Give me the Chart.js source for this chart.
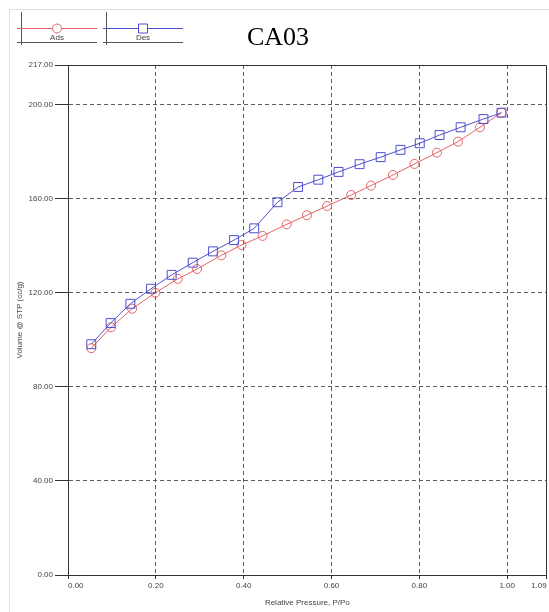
<!DOCTYPE html>
<html>
<head>
<meta charset="utf-8">
<script src="https://cdn.jsdelivr.net/npm/chart.js@4/dist/chart.umd.min.js"></script>
<style>
  body { margin: 0; background: #fff; overflow: hidden; }
  #wrap { position: relative; width: 549px; height: 612px; overflow: hidden; }
  #frame { position: absolute; left: 9px; top: 9px; right: -5px; bottom: -5px; border-left: 1px solid #e2e2e2; border-top: 1px solid #e2e2e2; }
  canvas { position: absolute; left: 0; top: 0; }
</style>
</head>
<body>
<div id="wrap">
  <div id="frame"></div>
  <canvas id="chart" width="554" height="612"></canvas>
</div>
<script>
// 吸着 (Ads)
const adsX = [0.053, 0.098, 0.146, 0.199, 0.250, 0.294, 0.349, 0.395, 0.443, 0.498,
              0.544, 0.590, 0.645, 0.690, 0.740, 0.789, 0.840, 0.888, 0.938, 0.987];
const adsY = [96.5, 105.4, 113.3, 120.1, 126.0, 130.2, 136.0, 140.4, 144.3, 149.2,
              153.1, 157.0, 161.7, 165.7, 170.2, 174.9, 179.7, 184.4, 190.5, 196.7];
// 脱着 (Des)
const desX = [0.053, 0.097, 0.142, 0.189, 0.236, 0.284, 0.330, 0.378, 0.424, 0.477,
              0.524, 0.570, 0.616, 0.664, 0.712, 0.757, 0.801, 0.846, 0.894, 0.946, 0.987];
const desY = [98.2, 107.2, 115.4, 121.8, 127.7, 132.9, 137.7, 142.5, 147.5, 158.6,
              165.1, 168.2, 171.5, 174.8, 177.8, 180.9, 183.7, 187.2, 190.5, 194.0, 196.7];

const xTicks = [0, 0.2, 0.4, 0.6, 0.8, 1.0, 1.09];
const yTicks = [0, 40, 80, 120, 160, 200, 217];

const chartTitle = 'CA03';
const seriesNames = ['Ads', 'Des'];
const xTitle = 'Relative Pressure, P/Po';
const yTitle = 'Volume @ STP (cc/g)';

const RED = '#e46464';
const BLUE = '#4f4fd2';
const AXIS = '#333';
const GRID = '#5e5e5e';
const TXT = '#444';

const toPoints = (xs, ys) => xs.map((x, i) => ({ x: x, y: ys[i] }));

// 最大値の目盛り線は枠線で描くので消す
const gridColor = max => ctx => (ctx.tick && ctx.tick.value === max ? 'rgba(0,0,0,0)' : GRID);

// タイトル・凡例・枠線を描くプラグイン
const decor = {
  id: 'decor',
  afterDraw(chart) {
    const ctx = chart.ctx;
    const a = chart.chartArea;
    ctx.save();
    // 上と右の枠線
    ctx.strokeStyle = AXIS;
    ctx.lineWidth = 1;
    ctx.setLineDash([]);
    ctx.beginPath();
    ctx.moveTo(Math.round(a.left) + 0.5, Math.round(a.top) + 0.5);
    ctx.lineTo(Math.round(a.right) - 0.5, Math.round(a.top) + 0.5);
    ctx.lineTo(Math.round(a.right) - 0.5, Math.round(a.bottom) + 0.5);
    ctx.stroke();

    // 凡例
    const items = [
      { name: seriesNames[0], color: RED, shape: 'circle', x0: 17, vx: 21.5, cx: 57 },
      { name: seriesNames[1], color: BLUE, shape: 'rect', x0: 103, vx: 106.5, cx: 143 }
    ];
    items.forEach(it => {
      ctx.strokeStyle = '#555';
      ctx.beginPath();
      ctx.moveTo(it.vx, 12);
      ctx.lineTo(it.vx, 45);
      ctx.moveTo(it.x0, 42.5);
      ctx.lineTo(it.x0 + 80, 42.5);
      ctx.stroke();
      ctx.strokeStyle = it.color;
      ctx.beginPath();
      ctx.moveTo(it.x0, 28.5);
      ctx.lineTo(it.x0 + 80, 28.5);
      ctx.stroke();
      ctx.fillStyle = '#fff';
      ctx.beginPath();
      if (it.shape === 'circle') {
        ctx.arc(it.cx, 28.5, 4.5, 0, Math.PI * 2);
      } else {
        ctx.rect(it.cx - 4.5, 24, 9, 9);
      }
      ctx.fill();
      ctx.stroke();
      ctx.fillStyle = TXT;
      ctx.font = '8px "Liberation Sans", Arial, sans-serif';
      ctx.textAlign = 'center';
      ctx.textBaseline = 'middle';
      ctx.fillText(it.name, it.cx, 38);
    });

    // タイトル
    ctx.fillStyle = '#000';
    ctx.font = '26px "Liberation Serif", "Times New Roman", serif';
    ctx.textAlign = 'center';
    ctx.textBaseline = 'alphabetic';
    ctx.fillText(chartTitle, 278, 45);
    ctx.restore();
  }
};

const tickFont = { family: '"Liberation Sans", Arial, sans-serif', size: 8 };

new Chart(document.getElementById('chart'), {
  type: 'scatter',
  data: {
    datasets: [
      {
        label: seriesNames[0],
        data: toPoints(adsX, adsY),
        showLine: true,
        borderColor: RED,
        backgroundColor: 'rgba(0,0,0,0)',
        borderWidth: 1,
        pointStyle: 'circle',
        pointRadius: 4.5,
        pointBorderWidth: 1,
        pointBorderColor: RED,
        order: 2
      },
      {
        label: seriesNames[1],
        data: toPoints(desX, desY),
        showLine: true,
        borderColor: BLUE,
        backgroundColor: 'rgba(0,0,0,0)',
        borderWidth: 1,
        pointStyle: 'rect',
        pointRadius: 6.3,
        pointBorderWidth: 1,
        pointBorderColor: BLUE,
        order: 1
      }
    ]
  },
  options: {
    responsive: false,
    animation: false,
    events: [],
    layout: { padding: { top: 65, right: 0, left: 0, bottom: 0 } },
    plugins: {
      legend: { display: false },
      title: { display: false },
      tooltip: { enabled: false }
    },
    scales: {
      x: {
        type: 'linear',
        min: 0,
        max: 1.09,
        afterBuildTicks: s => { s.ticks = xTicks.map(v => ({ value: v })); },
        afterFit: s => { s.height = 37; },
        ticks: {
          font: tickFont,
          color: TXT,
          padding: 2,
          maxRotation: 0,
          autoSkip: false,
          align: 'inner',
          callback: v => Number(v).toFixed(2)
        },
        grid: { color: gridColor(1.09), tickColor: AXIS, tickLength: 4, lineWidth: 1 },
        border: { color: AXIS, dash: [4, 3] },
        title: {
          display: true,
          text: xTitle,
          color: TXT,
          font: tickFont,
          padding: { top: 0, bottom: 4 }
        }
      },
      y: {
        type: 'linear',
        min: 0,
        max: 217,
        afterBuildTicks: s => { s.ticks = yTicks.map(v => ({ value: v })); },
        afterFit: s => { s.width = 68; },
        ticks: {
          font: tickFont,
          color: TXT,
          padding: 2,
          autoSkip: false,
          callback: v => Number(v).toFixed(2)
        },
        grid: { color: gridColor(217), tickColor: AXIS, tickLength: 13, lineWidth: 1 },
        border: { color: AXIS, dash: [4, 3] },
        title: {
          display: true,
          text: yTitle,
          color: TXT,
          font: tickFont,
          padding: { top: 15, bottom: 0 }
        }
      }
    }
  },
  plugins: [decor]
});
</script>
</body>
</html>
